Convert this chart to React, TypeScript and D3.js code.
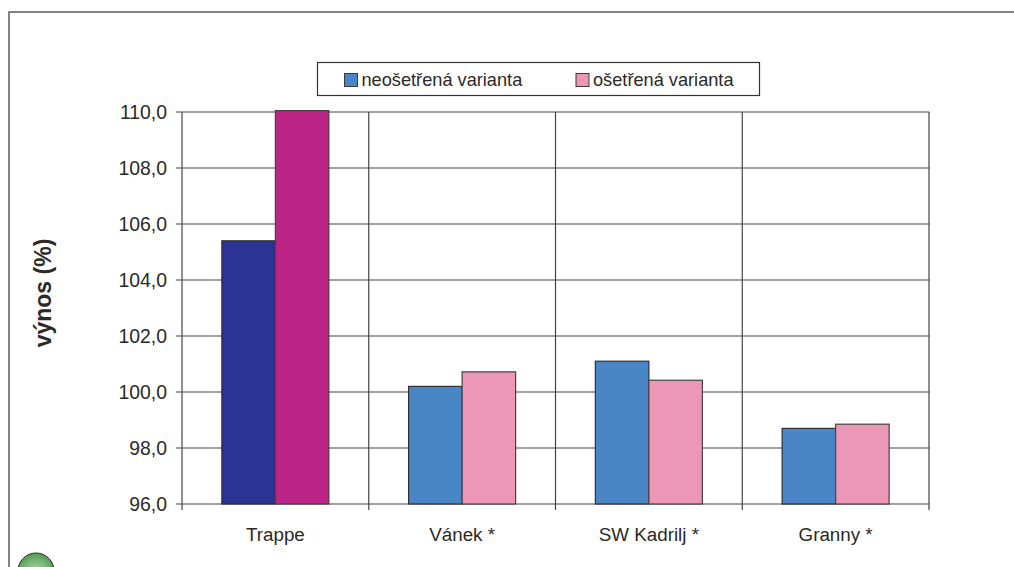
import React from "react";
import * as d3 from "d3";

const categories = ["Trappe", "Vánek *", "SW Kadrilj *", "Granny *"];
const untreated = [105.4, 100.2, 101.1, 98.7];
const treated = [110.05, 100.72, 100.42, 98.85];
const tickValues = [96, 98, 100, 102, 104, 106, 108, 110];
const legendLabels = ["neošetřená varianta", "ošetřená varianta"];
const untreatedColors = ["#2b3494", "#4a86c6", "#4a86c6", "#4a86c6"];
const treatedColors = ["#bc2486", "#ec97b6", "#ec97b6", "#ec97b6"];

const FONT = "'Liberation Sans', Arial, sans-serif";
const TEXT = "#2b2a29";
const LINE = "#444";

export default function App() {
  const x = d3.scaleBand<string>().domain(categories).range([182, 929]).paddingInner(0).paddingOuter(0);
  const y = d3.scaleLinear().domain([96, 110]).range([504, 112]);
  const inner = d3.scaleBand<string>().domain(["a", "b"]).range([0, x.bandwidth()]).paddingInner(0).paddingOuter(0.745);
  const fmt = (v: number) => d3.format(".1f")(v).replace(".", ",");
  const boundaries = categories.map((c) => x(c)!).concat(x.range()[1]);

  return (
    <svg
      width={1014}
      height={567}
      style={{ position: "absolute", left: 0, top: 0, background: "#fff" }}
      fontFamily={FONT}
    >
      <path d="M9,567 V12 H1014" fill="none" stroke="#5c5c5c" strokeWidth={1.5} />

      {tickValues.map((t) => (
        <line key={t} x1={176} x2={929} y1={y(t)} y2={y(t)} stroke={LINE} strokeWidth={1.2} />
      ))}
      {boundaries.map((b) => (
        <line key={b} x1={b} x2={b} y1={112} y2={510} stroke={LINE} strokeWidth={1.2} />
      ))}

      {categories.map((c, i) => (
        <g key={c}>
          <rect
            x={x(c)! + inner("a")!}
            width={inner.bandwidth()}
            y={y(untreated[i])}
            height={y(96) - y(untreated[i])}
            fill={untreatedColors[i]}
            stroke="#2f2f3a"
            strokeWidth={1.2}
          />
          <rect
            x={x(c)! + inner("b")!}
            width={inner.bandwidth()}
            y={y(treated[i])}
            height={y(96) - y(treated[i])}
            fill={treatedColors[i]}
            stroke="#444"
            strokeWidth={1.2}
          />
          <text
            x={x(c)! + x.bandwidth() / 2}
            y={541}
            textAnchor="middle"
            fontSize={18.8}
            fill={TEXT}
          >
            {c}
          </text>
        </g>
      ))}

      {tickValues.map((t) => (
        <text key={t} x={167} y={y(t) + 7} textAnchor="end" fontSize={19.4} fill={TEXT}>
          {fmt(t)}
        </text>
      ))}

      <text
        transform="translate(51,293) rotate(-90)"
        textAnchor="middle"
        fontSize={23}
        fontWeight="bold"
        fill={TEXT}
      >
        výnos (%)
      </text>

      <rect x={317.5} y={62.5} width={442} height={33} fill="#fff" stroke="#333" strokeWidth={1.2} />
      <rect x={344.5} y={73.5} width={13} height={13} fill="#4a86c6" stroke="#3a3a3a" strokeWidth={1} />
      <text x={361.5} y={86} fontSize={18.2} fill={TEXT}>{legendLabels[0]}</text>
      <rect x={576} y={73.5} width={13} height={13} fill="#ec97b6" stroke="#3a3a3a" strokeWidth={1} />
      <text x={593} y={86} fontSize={18.2} fill={TEXT}>{legendLabels[1]}</text>

      <defs>
        <radialGradient id="ball" cx="50%" cy="55%" r="55%">
          <stop offset="0%" stopColor="#bcdcb4" />
          <stop offset="100%" stopColor="#4f9c50" />
        </radialGradient>
      </defs>
      <circle cx={36} cy={571} r={18} fill="url(#ball)" stroke="#2b2a29" strokeWidth={1} />
    </svg>
  );
}
